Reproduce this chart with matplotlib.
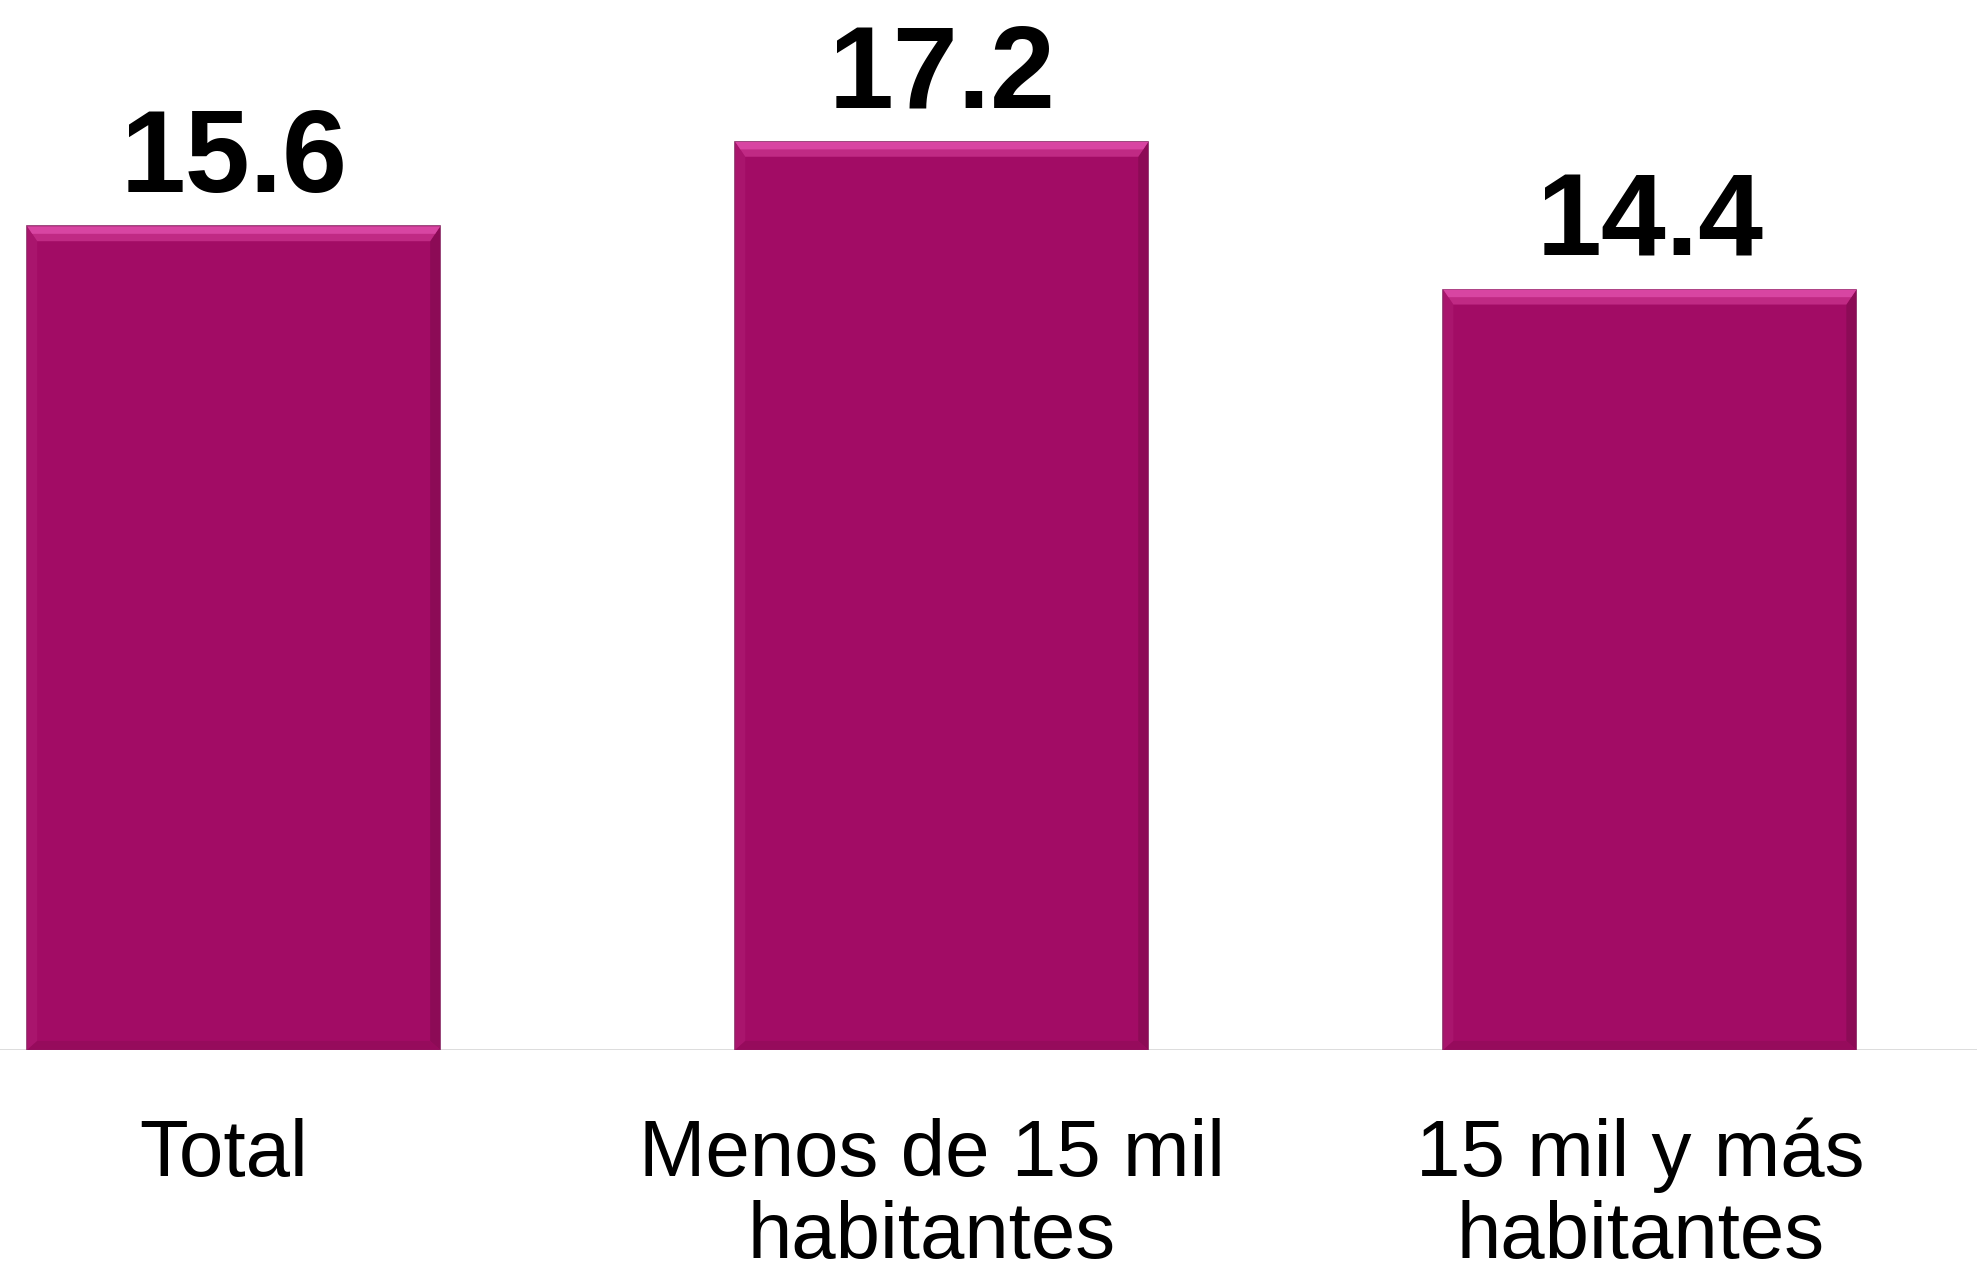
import matplotlib.pyplot as plt
from matplotlib.patches import Polygon

categories = ["Total", "Menos de 15 mil\nhabitantes", "15 mil y más\nhabitantes"]
values = [15.6, 17.2, 14.4]

bar_color = "#a20c65"

plt.rcParams["font.family"] = ["Liberation Sans", "DejaVu Sans"]

fig = plt.figure(figsize=(19.77, 12.71), dpi=100)
ax = fig.add_axes([0, 0.174, 1, 0.826])

x = range(len(values))
bars = ax.bar(x, values, width=0.583, color=bar_color, edgecolor="#8a2a66", linewidth=1.2, zorder=2)

ax.set_xlim(-0.33, 2.462)
ax.set_ylim(0, 19.89)

# bevel look on each bar
dx, dy = 0.014, 0.28
for b in bars:
    x0, w, h = b.get_x(), b.get_width(), b.get_height()
    x1 = x0 + w
    top = Polygon([(x0, h), (x1, h), (x1 - dx, h - dy), (x0 + dx, h - dy)],
                  closed=True, color="#c02a84", lw=0, zorder=3)
    top2 = Polygon([(x0, h), (x1, h), (x1 - dx * 0.5, h - dy * 0.5), (x0 + dx * 0.5, h - dy * 0.5)],
                   closed=True, color="#d845a2", lw=0, zorder=3)
    left = Polygon([(x0, 0), (x0, h), (x0 + dx, h - dy), (x0 + dx, dy * 0.6)],
                   closed=True, color="#a9156d", lw=0, zorder=3)
    right = Polygon([(x1, 0), (x1, h), (x1 - dx, h - dy), (x1 - dx, dy * 0.6)],
                    closed=True, color="#8c0b56", lw=0, zorder=3)
    bottom = Polygon([(x0, 0), (x1, 0), (x1 - dx, dy * 0.6), (x0 + dx, dy * 0.6)],
                     closed=True, color="#960b5c", lw=0, zorder=3)
    for p in (left, right, bottom, top, top2):
        ax.add_patch(p)

for i, v in enumerate(values):
    ax.annotate(f"{v:.1f}", xy=(i, v), xytext=(0, 25), textcoords="offset points",
                ha="center", va="baseline", fontsize=84, fontweight="bold", color="black")

for i, c in enumerate(categories):
    ax.annotate(c, xy=(i, 0), xytext=(-7, -49), textcoords="offset points",
                ha="center", va="top", fontsize=57.5, color="black", linespacing=1.12)

ax.axhline(0, color="#d9d9d9", linewidth=2, zorder=1)
for s in ax.spines.values():
    s.set_visible(False)
ax.set_xticks([])
ax.set_yticks([])

fig.savefig("out.png", dpi=100)
